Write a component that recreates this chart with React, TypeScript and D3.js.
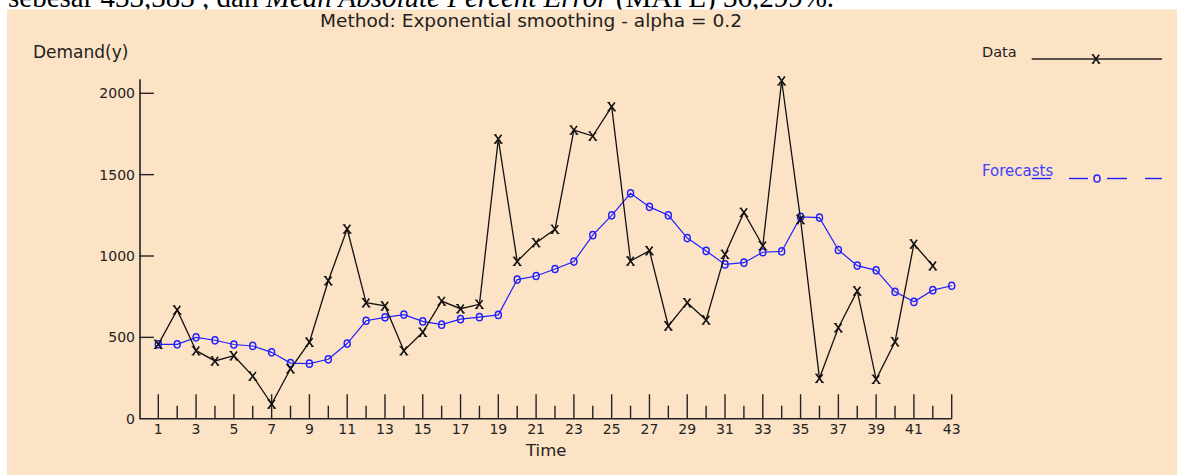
import React from "react";
import * as d3 from "d3";

const demand = [457, 668, 418, 355, 387, 262, 90, 307, 470, 848, 1166, 713, 693, 418, 531, 723, 676, 703, 1719, 967, 1082, 1164, 1774, 1737, 1918, 969, 1033, 570, 713, 607, 1010, 1268, 1063, 2077, 1224, 248, 559, 785, 242, 473, 1074, 940];
const forecast = [457, 457, 500, 482, 456, 447, 408, 342, 338, 365, 462, 602, 623, 640, 598, 578, 612, 624, 638, 855, 877, 920, 966, 1128, 1250, 1385, 1302, 1250, 1110, 1031, 948, 959, 1023, 1028, 1240, 1236, 1037, 941, 912, 780, 718, 790, 817];
const yTicks = [0, 500, 1000, 1500, 2000];
const xTicks = d3.range(1, 44);
const title = "Method: Exponential smoothing - alpha = 0.2";
const yLabel = "Demand(y)";
const xLabel = "Time";
const legendData = "Data";
const legendForecast = "Forecasts";

const W = 1177;
const H = 475;
const BG = "#FDE3C5";
const BLUE = "#2020FF";
const FONT = "DejaVu Sans, sans-serif";

export default function App() {
  const x = d3.scaleLinear().domain([0, 43]).range([139.4, 951.7]);
  const y = d3.scaleLinear().domain([0, 2000]).range([418.7, 93.3]);
  const dataLine = d3.line<number>().x((_, i) => x(i + 1)).y((d) => y(d));
  const xMark = (cx: number, cy: number, key: string | number) => (
    <g key={key} stroke="#111" strokeWidth={1.6} fill="none">
      <path d={`M${cx - 3.2},${cy - 4.2}L${cx + 3.2},${cy + 4.2}M${cx - 3.2},${cy + 4.2}L${cx + 3.2},${cy - 4.2}`} />
      <path d={`M${cx - 4.4},${cy - 4.2}L${cx - 1.8},${cy - 4.2}M${cx + 1.8},${cy + 4.2}L${cx + 4.4},${cy + 4.2}M${cx - 4.4},${cy + 4.2}L${cx - 1.8},${cy + 4.2}`} strokeWidth={1} />
    </g>
  );
  const oMark = (cx: number, cy: number, key: string | number) => (
    <ellipse key={key} cx={cx} cy={cy} rx={3} ry={3.6} fill="none" stroke={BLUE} strokeWidth={1.5} />
  );
  const axisY0 = y(0);
  return (
    <>
      <style>{`body{margin:0;overflow:hidden}`}</style>
      <svg width={W} height={H} style={{ display: "block", background: "#fff" }}>
        <text x={8} y={7} fontFamily="Liberation Serif, Times New Roman, serif" fontSize={29} fill="#000">
          sebesar 433,383 , dan <tspan fontStyle="italic">Mean Absolute Percent Error</tspan> (MAPE) 36,299%.
        </text>
        <rect x={7} y={9.5} width={W - 7} height={H - 9.5} fill={BG} />
        <text x={320} y={27} fontFamily={FONT} fontSize={17} fill="#222" textLength={422} lengthAdjust="spacingAndGlyphs">{title}</text>
        <text x={33} y={57.5} fontFamily={FONT} fontSize={17} fill="#222">{yLabel}</text>
        <text x={526} y={456} fontFamily={FONT} fontSize={16.5} fill="#222">{xLabel}</text>

        {/* axes */}
        <line x1={x(0) + 0.6} x2={x(0) + 0.6} y1={79.3} y2={axisY0} stroke="#222" strokeWidth={1.6} />
        <line x1={x(0)} x2={x(43)} y1={axisY0} y2={axisY0} stroke="#222" strokeWidth={1.6} />
        {yTicks.map((t) => (
          <g key={"yt" + t}>
            {t > 0 && <line x1={x(0)} x2={x(0) + 14.5} y1={y(t)} y2={y(t)} stroke="#222" strokeWidth={1.4} />}
            <text x={135} y={y(t)} dy="0.36em" textAnchor="end" fontFamily={FONT} fontSize={14} fill="#222">{t}</text>
          </g>
        ))}
        {xTicks.map((t) => (
          <g key={"xt" + t}>
            <line x1={x(t)} x2={x(t)} y1={axisY0} y2={axisY0 - (t % 2 === 1 ? 24.5 : 13)} stroke="#222" strokeWidth={1.4} />
            {t % 2 === 1 && (
              <text x={x(t)} y={434} textAnchor="middle" fontFamily={FONT} fontSize={14} fill="#222">{t}</text>
            )}
          </g>
        ))}

        {/* forecast */}
        <path d={dataLine(forecast) || ""} fill="none" stroke={BLUE} strokeWidth={1.2} />
        {forecast.map((d, i) => oMark(x(i + 1), y(d), "f" + i))}

        {/* data */}
        <path d={dataLine(demand) || ""} fill="none" stroke="#111" strokeWidth={1.3} />
        {demand.map((d, i) => xMark(x(i + 1), y(d), "d" + i))}

        {/* legend */}
        <text x={982} y={57} fontFamily={FONT} fontSize={14.5} fill="#222">{legendData}</text>
        <line x1={1031.7} x2={1162} y1={59} y2={59} stroke="#222" strokeWidth={1.4} />
        {xMark(1096, 59, "lx")}
        <text x={982} y={176} fontFamily={FONT} fontSize={15} fill="#4040FF">{legendForecast}</text>
        {[[1031.7, 1051], [1069, 1088], [1107, 1127], [1145, 1162]].map(([a, b], i) => (
          <line key={"ld" + i} x1={a} x2={b} y1={178.5} y2={178.5} stroke={BLUE} strokeWidth={1.4} />
        ))}
        {oMark(1097, 178.5, "lo")}
      </svg>
    </>
  );
}
